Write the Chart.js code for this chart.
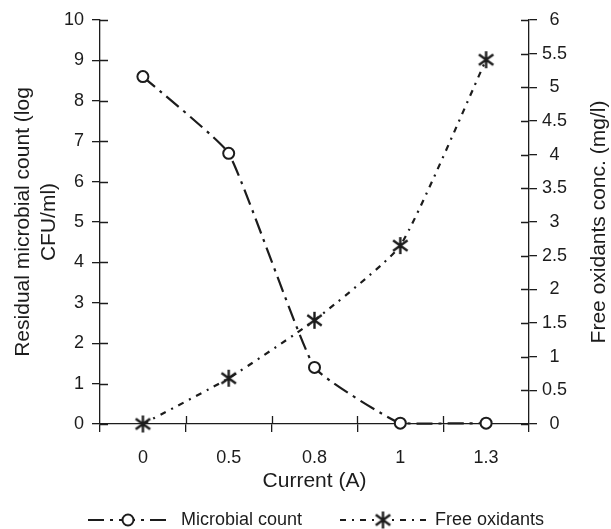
<!DOCTYPE html>
<html>
<head>
<meta charset="utf-8">
<script src="https://cdn.jsdelivr.net/npm/chart.js@4/dist/chart.umd.min.js"></script>
<style>
  html, body { margin: 0; padding: 0; background: #fff; }
  #wrap { width: 611px; height: 529px; }
</style>
</head>
<body>
<div id="wrap"><canvas id="c" width="611" height="529"></canvas></div>
<script>
const categories = ['0', '0.5', '0.8', '1', '1.3'];
const microbialCount = [8.6, 6.7, 1.4, 0.02, 0.02];
const freeOxidants = [0, 0.68, 1.54, 2.65, 5.41];
const leftTicks = ['0','1','2','3','4','5','6','7','8','9','10'];
const rightTicks = ['0','0.5','1','1.5','2','2.5','3','3.5','4','4.5','5','5.5','6'];

const INK = '#1c1c1c';
const FONT = "'Liberation Sans', Arial, sans-serif";
const microDash = [16, 6, 3, 6];
const oxDash = [6, 6, 2, 6];

function makeStar(size, lw) {
  const c = document.createElement('canvas');
  c.width = size; c.height = size;
  const g = c.getContext('2d');
  g.strokeStyle = INK; g.lineWidth = lw; g.lineCap = 'butt';
  const m = size / 2, r = size / 2 - 1;
  g.beginPath();
  g.moveTo(m, m - r); g.lineTo(m, m + r);
  const dx = r * 0.85, dy = r * 0.62;
  g.moveTo(m - dx, m - dy); g.lineTo(m + dx, m + dy);
  g.moveTo(m - dx, m + dy); g.lineTo(m + dx, m - dy);
  g.stroke();
  return c;
}
const starImg = makeStar(19, 2.4);

function drawCircle(ctx, x, y, r) {
  ctx.save();
  ctx.setLineDash([]);
  ctx.beginPath(); ctx.arc(x, y, r, 0, Math.PI * 2);
  ctx.fillStyle = '#fff'; ctx.fill();
  ctx.strokeStyle = INK; ctx.lineWidth = 2; ctx.stroke();
  ctx.restore();
}

const extras = {
  id: 'extras',
  afterDraw(chart) {
    const ctx = chart.ctx;
    const a = chart.chartArea;
    const x = chart.scales.x, yl = chart.scales.y, yr = chart.scales.y2;
    ctx.save();
    ctx.strokeStyle = INK; ctx.lineWidth = 1.3; ctx.setLineDash([]);
    // inner halves of tick marks (ticks cross the axes)
    ctx.beginPath();
    yl.ticks.forEach(t => { const p = Math.round(yl.getPixelForValue(t.value)) + 0.5; ctx.moveTo(a.left, p); ctx.lineTo(a.left + 8, p); });
    yr.ticks.forEach(t => { const p = Math.round(yr.getPixelForValue(t.value)) + 0.5; ctx.moveTo(a.right, p); ctx.lineTo(a.right - 8, p); });
    const n = categories.length;
    for (let i = 1; i < n; i++) {
      const p = Math.round((x.getPixelForValue(i - 1) + x.getPixelForValue(i)) / 2) + 0.5;
      ctx.moveTo(p, a.bottom); ctx.lineTo(p, a.bottom - 8);
    }
    ctx.stroke();

    // right axis title (reads bottom to top)
    ctx.fillStyle = INK;
    ctx.font = '21px ' + FONT;
    ctx.textAlign = 'center'; ctx.textBaseline = 'middle';
    ctx.translate(599, (a.top + a.bottom) / 2);
    ctx.rotate(-Math.PI / 2);
    ctx.fillText('Free oxidants conc. (mg/l)', 0, 0);
    ctx.restore();

    // legend
    ctx.save();
    const ly = 520;
    ctx.strokeStyle = INK; ctx.lineWidth = 2.2;
    ctx.setLineDash(microDash);
    ctx.beginPath(); ctx.moveTo(88, ly); ctx.lineTo(168, ly); ctx.stroke();
    drawCircle(ctx, 128, ly, 5.5);
    ctx.setLineDash(oxDash);
    ctx.beginPath(); ctx.moveTo(340, ly); ctx.lineTo(428, ly); ctx.stroke();
    ctx.setLineDash([]);
    ctx.fillStyle = '#fff'; ctx.fillRect(375, ly - 9, 17, 18);
    ctx.drawImage(starImg, 383 - 9.5, ly - 9.5);
    ctx.fillStyle = INK;
    ctx.font = '18px ' + FONT;
    ctx.textAlign = 'left'; ctx.textBaseline = 'middle';
    ctx.fillText('Microbial count', 181, ly);
    ctx.fillText('Free oxidants', 435, ly);
    ctx.restore();
  }
};

new Chart(document.getElementById('c'), {
  type: 'line',
  data: {
    labels: categories,
    datasets: [
      {
        label: 'Microbial count',
        data: microbialCount,
        yAxisID: 'y',
        clip: false,
        borderColor: INK,
        borderWidth: 2.2,
        borderDash: microDash,
        tension: 0.12,
        pointStyle: 'circle',
        pointRadius: 5.5,
        pointBorderWidth: 2,
        pointBackgroundColor: '#fff',
        pointBorderColor: INK,
        fill: false
      },
      {
        label: 'Free oxidants',
        data: freeOxidants,
        yAxisID: 'y2',
        clip: false,
        borderColor: INK,
        borderWidth: 2.2,
        borderDash: oxDash,
        tension: 0.15,
        pointStyle: starImg,
        pointRadius: 9,
        fill: false
      }
    ]
  },
  options: {
    responsive: false,
    animation: false,
    events: [],
    layout: { padding: { top: 20, bottom: 35, left: 0, right: 0 } },
    plugins: { legend: { display: false }, tooltip: { enabled: false } },
    scales: {
      x: {
        type: 'category',
        offset: true,
        grid: { offset: true, drawOnChartArea: false, tickLength: 8, color: INK, lineWidth: 1.3 },
        border: { color: INK, width: 1.3 },
        ticks: { color: INK, font: { family: FONT, size: 18 }, padding: 15, maxRotation: 0 },
        title: { display: true, text: 'Current (A)', color: INK, font: { family: FONT, size: 21 }, padding: { top: 0, bottom: 0 } },
        afterFit: s => { s.height = 70; }
      },
      y: {
        position: 'left',
        min: 0, max: 10,
        grid: { drawOnChartArea: false, tickLength: 8, color: INK, lineWidth: 1.3 },
        border: { color: INK, width: 1.3 },
        ticks: { stepSize: 1, color: INK, font: { family: FONT, size: 18 }, padding: 8,
                 callback: (v, i) => leftTicks[i] },
        title: { display: true, text: ['Residual microbial count (log', 'CFU/ml)'], color: INK,
                 font: { family: FONT, size: 21, lineHeight: 1.24 }, padding: { top: 10, bottom: 0 } },
        afterFit: s => { s.width = 100; }
      },
      y2: {
        position: 'right',
        min: 0, max: 6,
        grid: { drawOnChartArea: false, tickLength: 8, color: INK, lineWidth: 1.3 },
        border: { color: INK, width: 1.3 },
        ticks: { stepSize: 0.5, color: INK, font: { family: FONT, size: 18 }, padding: 5, crossAlign: 'center',
                 callback: (v, i) => rightTicks[i] },
        afterFit: s => { s.width = 82; }
      }
    }
  },
  plugins: [extras]
});
</script>
</body>
</html>
